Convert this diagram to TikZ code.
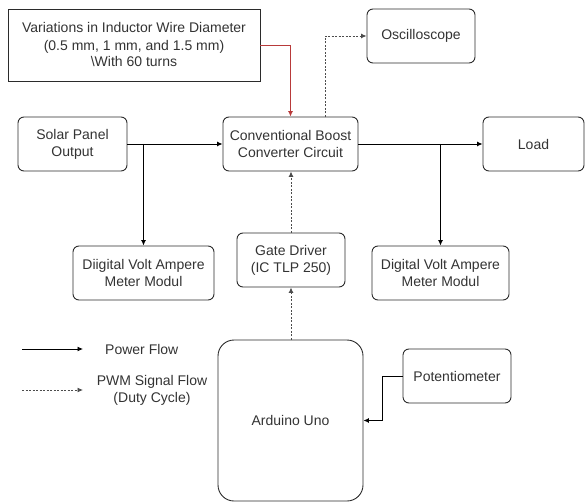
\documentclass[tikz,border=0pt]{standalone}
\usepackage{fontspec}
\setmainfont{Liberation Sans}
\usetikzlibrary{arrows.meta}
\definecolor{txt}{HTML}{333333}
\definecolor{edge}{HTML}{2B2B2B}
\definecolor{redarrow}{HTML}{B83A3A}
\begin{document}
\begin{tikzpicture}[x=1pt,y=-1pt,
  box/.style={draw=edge,line width=0.9pt,rounded corners=6pt,align=center,
    text=txt,font=\fontsize{14}{17}\selectfont,inner sep=0pt},
  sharpbox/.style={box,rounded corners=0pt},
  power/.style={draw=black,line width=0.9pt,-{Latex[length=5.5pt,width=5pt]}},
  pwm/.style={draw=black!70,line width=0.9pt,dash pattern=on 2pt off 1.5pt,-{Latex[length=5.5pt,width=5pt]}},
  lbl/.style={text=txt,font=\fontsize{14}{17}\selectfont,align=center,inner sep=0pt}]
\useasboundingbox (0,0) rectangle (585,502);
\node[sharpbox,minimum width=252pt,minimum height=72pt] (ind) at (134,45)
  {Variations in Inductor Wire Diameter\\(0.5 mm, 1 mm, and 1.5 mm)\\\textbackslash With 60 turns};
\node[box,minimum width=108pt,minimum height=54pt] (osc) at (421,36) {Oscilloscope};
\node[box,minimum width=109pt,minimum height=54pt] (solar) at (72.5,144) {Solar Panel\\Output};
\node[box,minimum width=135pt,minimum height=54pt] (boost) at (290.5,144) {Conventional Boost\\Converter Circuit};
\node[box,minimum width=101pt,minimum height=54pt] (load) at (533.5,144) {Load};
\node[box,minimum width=141pt,minimum height=54pt] (meterL) at (143.5,273) {Diigital Volt Ampere\\Meter Modul};
\node[box,minimum width=108pt,minimum height=54pt] (gate) at (291,260) {Gate Driver\\(IC TLP 250)};
\node[box,minimum width=137pt,minimum height=54pt] (meterR) at (440.5,273) {Digital Volt Ampere\\Meter Modul};
\node[box,rounded corners=16pt,minimum width=145pt,minimum height=161pt] (ard) at (290.5,420.5) {Arduino Uno};
\node[box,minimum width=108pt,minimum height=54pt] (pot) at (457,376) {Potentiometer};
% connectors
\draw[power,draw=redarrow] (ind.east) -| (boost.north);
\coordinate (oscup) at (325,117);
\draw[pwm] (oscup) |- (osc.west);
\draw[power] (solar.east) -- (boost.west);
\coordinate (brL) at (143.5,144);
\draw[power] (brL) -- (meterL.north);
\draw[power] (boost.east) -- (load.west);
\coordinate (brR) at (440.5,144);
\draw[power] (brR) -- (meterR.north);
\draw[pwm] (ard.north -| gate.south) -- (gate.south);
\draw[pwm] (gate.north) -- (gate.north |- boost.south);
\draw[power] (pot.west) -- ++(-20,0) |- (ard.east);
% legend
\coordinate (l1a) at (22,349); \coordinate (l1b) at (83,349);
\coordinate (l2a) at (22,390); \coordinate (l2b) at (83,390);
\draw[power] (l1a) -- (l1b);
\draw[pwm] (l2a) -- (l2b);
\node[lbl,anchor=west] (lt1) at (105,349) {Power Flow};
\node[lbl] (lt2) at (152,390) {PWM Signal Flow\\(Duty Cycle)};
\end{tikzpicture}
\end{document}
